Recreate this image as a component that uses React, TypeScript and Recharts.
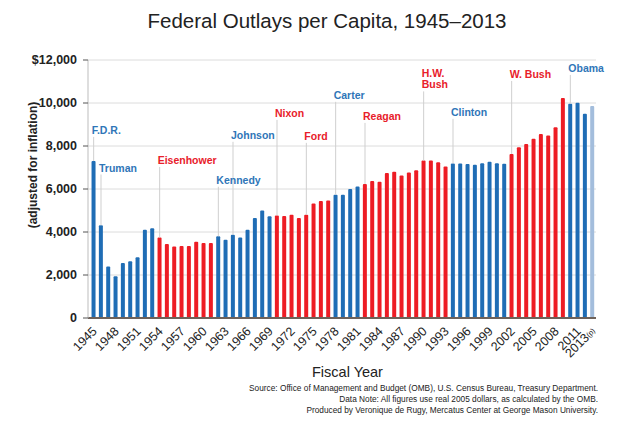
import React from 'react';
import { BarChart, Bar, XAxis, YAxis, CartesianGrid, Cell, ReferenceLine, ReferenceDot } from 'recharts';

const years = [
  '1945', '1946', '1947', '1948', '1949', '1950', '1951', '1952', '1953', '1954',
  '1955', '1956', '1957', '1958', '1959', '1960', '1961', '1962', '1963', '1964',
  '1965', '1966', '1967', '1968', '1969', '1970', '1971', '1972', '1973', '1974',
  '1975', '1976', '1977', '1978', '1979', '1980', '1981', '1982', '1983', '1984',
  '1985', '1986', '1987', '1988', '1989', '1990', '1991', '1992', '1993', '1994',
  '1995', '1996', '1997', '1998', '1999', '2000', '2001', '2002', '2003', '2004',
  '2005', '2006', '2007', '2008', '2009', '2010', '2011', '2012', '2013',
];

const outlays = [
  7300, 4310, 2400, 1940, 2560, 2640, 2820, 4110, 4170,
  3750, 3440, 3320, 3350, 3350, 3550, 3490, 3490,
  3800, 3640, 3875, 3750, 4110, 4650, 5000, 4730,
  4770, 4740, 4800, 4650, 4800, 5320, 5440, 5470,
  5735, 5735, 6000, 6120,
  6230, 6370, 6340, 6740, 6800, 6630, 6770, 6870,
  7320, 7320, 7250, 7050,
  7190, 7190, 7160, 7130, 7200, 7270, 7200, 7170,
  7630, 7940, 8090, 8340, 8560, 8490, 8870, 10230,
  9970, 10010, 9500, 9860,
];

const projectedYears = ['2013'];

const presidents = ['F.D.R.', 'Truman', 'Eisenhower', 'Kennedy', 'Johnson', 'Nixon', 'Ford', 'Carter', 'Reagan', 'H.W.\nBush', 'Clinton', 'W. Bush', 'Obama'];
const presidentStart = ['1945', '1946', '1954', '1962', '1964', '1970', '1974', '1978', '1982', '1990', '1994', '2002', '2010'];
const presidentParty = ['D', 'D', 'R', 'D', 'D', 'R', 'R', 'D', 'R', 'R', 'D', 'R', 'D'];
const presidentLabelLevel = [8750, 7000, 7350, 6430, 8520, 9540, 8470, 10380, 9400, 11400, 9590, 11350, 11630];

const xTickYears = ['1945', '1948', '1951', '1954', '1957', '1960', '1963', '1966', '1969', '1972', '1975', '1978', '1981', '1984', '1987', '1990', '1993', '1996', '1999', '2002', '2005', '2008', '2011', '2013'];
const yTicks = [0, 2000, 4000, 6000, 8000, 10000, 12000];

const BLUE = '#1f6db5';
const RED = '#ed1c24';
const LIGHT_BLUE = '#a3bddc';
const LABEL_BLUE = '#2f76b8';
const LABEL_RED = '#e8202a';
const FONT = '"Liberation Sans", Arial, Helvetica, sans-serif';

const partyForYear = (y: string) => {
  let p = presidentParty[0];
  for (let i = 0; i < presidentStart.length; i++) {
    if (Number(presidentStart[i]) <= Number(y)) p = presidentParty[i];
  }
  return p;
};

const data = years.map((y, i) => ({ year: y, value: outlays[i] }));

const XTick = (props: any) => {
  const { x, y, payload } = props;
  const v = payload.value as string;
  if (!xTickYears.includes(v)) return <g />;
  const proj = projectedYears.includes(v);
  return (
    <g transform={`translate(${x + 4},${y + 14})`}>
      <text textAnchor="end" transform="rotate(-45)" fontFamily={FONT} fontSize={12.5} fill="#222">
        <tspan>{v}</tspan>
        {proj ? <tspan fontSize={7.5} dy={-1}>(p)</tspan> : null}
      </text>
    </g>
  );
};

const makeLabelShape = (name: string, party: string) => (props: any) => {
  const { cx, cy } = props;
  const lines = name.split('\n');
  return (
    <text x={cx - 2} y={cy} fontFamily={FONT} fontWeight="bold" fontSize={10.5} fill={party === 'D' ? LABEL_BLUE : LABEL_RED} dominantBaseline="central">
      {lines.map((l, i) => (
        <tspan key={i} x={cx - 2} dy={i === 0 ? 0 : 11.5}>{l}</tspan>
      ))}
    </text>
  );
};

export default function App() {
  return (
    <div style={{ position: 'absolute', left: 0, top: 0, width: 620, height: 423, background: '#fff', fontFamily: FONT }}>
      <div style={{ position: 'absolute', left: 0, width: 654, top: 9, textAlign: 'center', fontSize: 20.5, color: '#222', lineHeight: '24px' }}>
        Federal Outlays per Capita, 1945–2013
      </div>
      <BarChart width={620} height={423} data={data} margin={{ top: 60, right: 24, left: 0, bottom: 45 }} barCategoryGap="21%">
        <CartesianGrid vertical={false} stroke="#dcdcdc" />
        <XAxis
          dataKey="year"
          interval={0}
          tick={<XTick />}
          tickLine={false}
          tickSize={0}
          tickMargin={0}
          height={60}
          padding={{ left: 2, right: 0 }}
          axisLine={{ stroke: '#6e625a', strokeWidth: 2 }}
        />
        <YAxis
          width={88}
          domain={[0, 12000]}
          ticks={yTicks}
          interval={0}
          tickSize={5}
          tickMargin={6}
          axisLine={{ stroke: '#bdbdbd' }}
          tickLine={{ stroke: '#555' }}
          tick={{ fontFamily: FONT, fontSize: 12.5, fontWeight: 'bold', fill: '#222' }}
          tickFormatter={(v: number) => (v === 12000 ? '$12,000' : v.toLocaleString('en-US'))}
        />
        {presidents.map((name, i) => {
          const start = presidentStart[i];
          const barVal = outlays[years.indexOf(start)];
          const nLines = name.split('\n').length;
          const top = presidentLabelLevel[i] - (7 + (nLines - 1) * 11.5) * 46.46;
          if (top <= barVal) return null;
          return (
            <ReferenceLine
              key={'l' + i}
              segment={[{ x: start, y: barVal }, { x: start, y: top }]}
              stroke="#cfcfcf"
              strokeWidth={1}
            />
          );
        })}
        <Bar dataKey="value" isAnimationActive={false} radius={[1, 1, 0, 0]}>
          {data.map((d, i) => (
            <Cell
              key={i}
              fill={projectedYears.includes(d.year) ? LIGHT_BLUE : partyForYear(d.year) === 'D' ? BLUE : RED}
            />
          ))}
        </Bar>
        {presidents.map((name, i) => (
          <ReferenceDot
            key={'d' + i}
            x={presidentStart[i]}
            y={presidentLabelLevel[i]}
            r={0}
            ifOverflow="visible"
            shape={makeLabelShape(name, presidentParty[i])}
          />
        ))}
      </BarChart>
      <div style={{ position: 'absolute', left: 0, top: 165, transform: 'translate(-50%, -50%) rotate(-90deg)', marginLeft: 33, whiteSpace: 'nowrap', fontSize: 12, fontWeight: 'bold', color: '#222' }}>
        (adjusted for inflation)
      </div>
      <div style={{ position: 'absolute', left: 312, top: 363, fontSize: 14.5, color: '#222', lineHeight: '18px' }}>
        Fiscal Year
      </div>
      <div style={{ position: 'absolute', right: 22, top: 383, textAlign: 'right', fontSize: 8.3, color: '#222', lineHeight: '11px' }}>
        <div>Source: Office of Management and Budget (OMB), U.S. Census Bureau, Treasury Department.</div>
        <div>Data Note: All figures use real 2005 dollars, as calculated by the OMB.</div>
        <div>Produced by Veronique de Rugy, Mercatus Center at George Mason University.</div>
      </div>
    </div>
  );
}
